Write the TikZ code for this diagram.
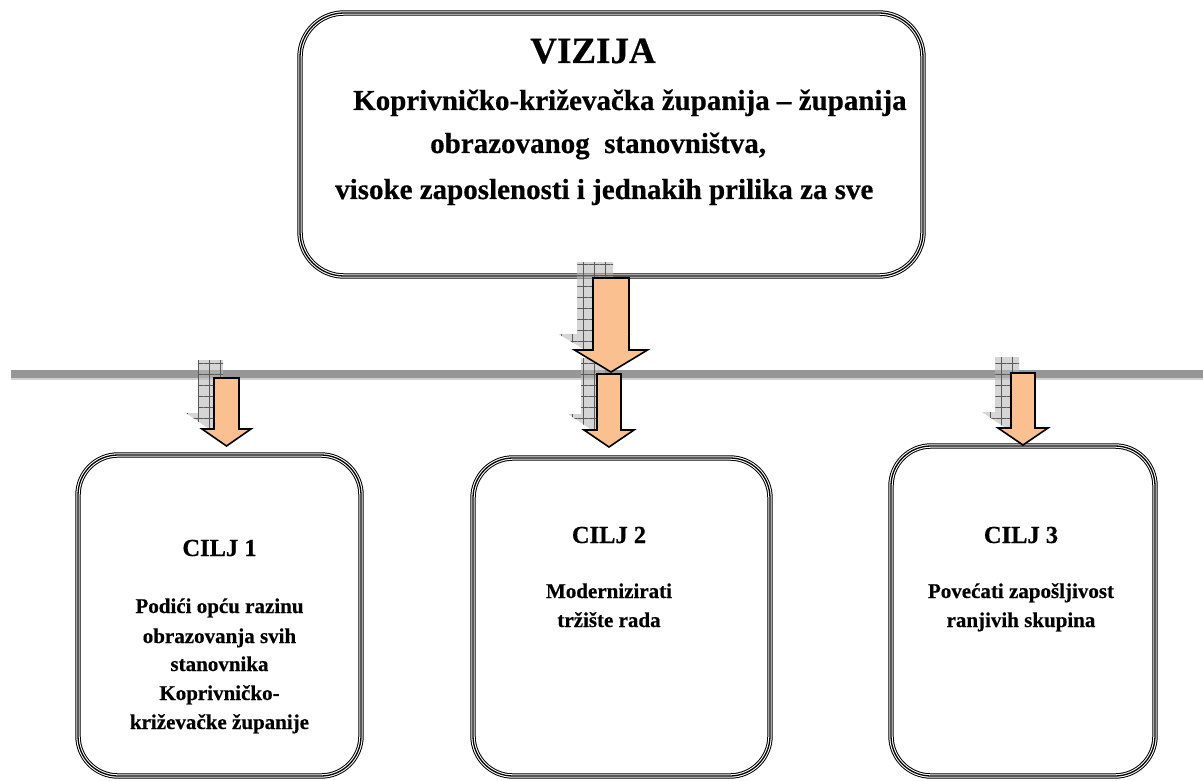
\documentclass[tikz,border=0pt]{standalone}
\usepackage{fontspec}
\setmainfont{Liberation Serif}[BoldFeatures={FakeBold=0.5}]
\usetikzlibrary{patterns.meta}
\definecolor{peach}{RGB}{250,192,143}
\definecolor{rulegray}{RGB}{150,150,150}
\newcommand\myarrow[8]{%
  % #1 cx, #2 shaft half, #3 top y, #4 head base y, #5 head half, #6 tip y, #7 style, #8 name
  \path[#7] (#1-#2,#3) -- (#1+#2,#3) -- (#1+#2,#4) -- (#1+#5,#4) -- (#1,#6) coordinate (#8)
     -- (#1-#5,#4) -- (#1-#2,#4) -- cycle;}
\begin{document}
\begin{tikzpicture}[x=1pt,y=-1pt,
  tribox/.style={rounded corners=#1, draw=black, line width=5.4pt,
     postaction={draw=white, line width=3.4pt},
     postaction={draw=black, line width=1.3pt},
     inner sep=0pt, fill=white},
  bigtxt/.style={font=\fontsize{29}{34}\selectfont\bfseries, inner sep=0pt, anchor=base west},
  boxtxt/.style={font=\fontsize{21}{25}\selectfont\bfseries, inner sep=0pt, anchor=base},
  ciljtxt/.style={font=\fontsize{24.5}{28}\selectfont\bfseries, inner sep=0pt, anchor=base},
  arr/.style={fill=peach, draw=black, line width=1.6pt, line join=miter},
  shad/.style={fill=gray!55, fill opacity=0.6, draw=none,
     postaction={pattern={Hatch[angle=0,distance=11pt,line width=0.5pt]}, pattern color=gray!70!black}},
]
\useasboundingbox (0,0) rectangle (1203,781);
% boxes
\node[tribox=44pt, minimum width=623pt, minimum height=263pt] (vis) at (611.5,144.5) {};
\node[tribox=40pt, minimum width=283pt, minimum height=321pt] (c1) at (219.5,615.5) {};
\node[tribox=40pt, minimum width=297pt, minimum height=318pt] (c2) at (621.5,617) {};
\node[tribox=40pt, minimum width=264pt, minimum height=330pt] (c3) at (1023,611) {};
% horizontal rule
\fill[rulegray] (11,370) rectangle (1203,378);
\fill[gray!35] (11,378) rectangle (1203,379.5);
% shadows
\myarrow{595}{18}{262}{334}{36.5}{356}{shad}{sA}
\myarrow{593}{12}{358}{414}{25}{431}{shad}{sB}
\myarrow{210.5}{12.5}{360}{413}{24.5}{430}{shad}{sL}
\myarrow{1007}{12}{357}{412}{25}{429}{shad}{sR}
% arrows
\myarrow{611}{18}{278}{350}{36.5}{372}{arr}{tA}
\myarrow{609}{12}{374}{430}{25}{447}{arr}{tB}
\myarrow{226.5}{12.5}{378}{429}{24.5}{446}{arr}{tL}
\myarrow{1023}{12}{373}{428}{25}{445}{arr}{tR}
% top texts
\node[font=\fontsize{37}{41}\selectfont\bfseries, inner sep=0pt, anchor=base] (vt) at (593,63) {VIZIJA};
\node[bigtxt] (v1) at (353,110) {Koprivničko-križevačka županija – županija};
\node[bigtxt] (v2) at (430,153) {obrazovanog\ \ stanovništva,};
\node[bigtxt] (v3) at (335,199) {visoke zaposlenosti i jednakih prilika za sve};
% goal 1
\node[ciljtxt] (g1) at (219.5,556) {CILJ 1};
\node[boxtxt] (g1a) at (219.5,613) {Podići opću razinu};
\node[boxtxt] (g1b) at (219.5,643) {obrazovanja svih};
\node[boxtxt] (g1c) at (219.5,671) {stanovnika};
\node[boxtxt] (g1d) at (219.5,700) {Koprivničko-};
\node[boxtxt] (g1e) at (219.5,729) {križevačke županije};
% goal 2
\node[ciljtxt] (g2) at (609,543) {CILJ 2};
\node[boxtxt] (g2a) at (609,598) {Modernizirati};
\node[boxtxt] (g2b) at (609,627) {tržište rada};
% goal 3
\node[ciljtxt] (g3) at (1021,543) {CILJ 3};
\node[boxtxt] (g3a) at (1021,598) {Povećati zapošljivost};
\node[boxtxt] (g3b) at (1021,627) {ranjivih skupina};
\end{tikzpicture}
\end{document}
